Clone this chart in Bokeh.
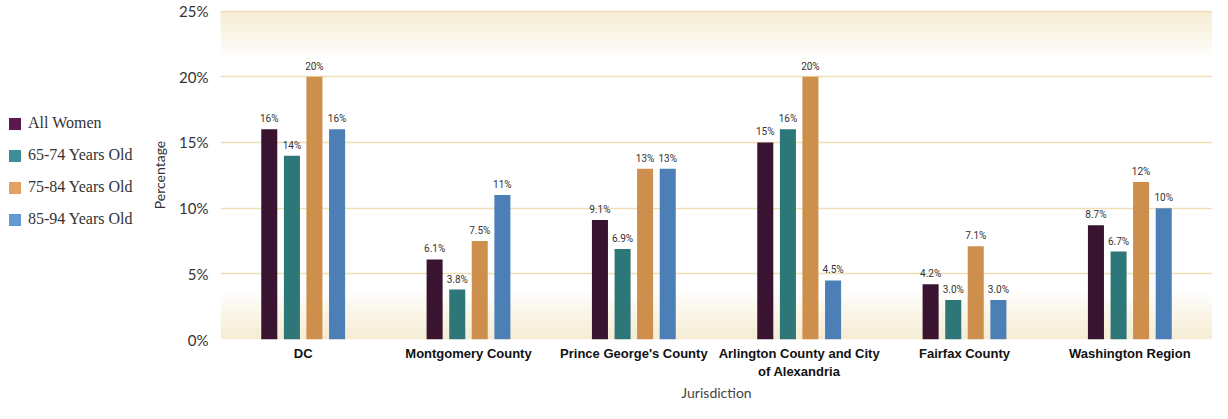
from bokeh.plotting import figure
from bokeh.layouts import row
from bokeh.models import (FactorRange, Legend, LegendItem, BoxAnnotation, ColumnDataSource,
                          Range1d, FixedTicker)
from bokeh.transform import dodge
from bokeh.core.properties import value
from bokeh.embed import file_html
from bokeh.resources import INLINE

# ---------------- data ----------------
jurisdictions = ["DC", "Montgomery County", "Prince George's County",
                 "Arlington County and City\nof Alexandria", "Fairfax County", "Washington Region"]
series_names = ["All Women", "65-74 Years Old", "75-84 Years Old", "85-94 Years Old"]
all_women = [16, 6.1, 9.1, 15, 4.2, 8.7]
age_65_74 = [14, 3.8, 6.9, 16, 3.0, 6.7]
age_75_84 = [20, 7.5, 13, 20, 7.1, 12]
age_85_94 = [16, 11, 13, 4.5, 3.0, 10]
labels_all_women = ["16%", "6.1%", "9.1%", "15%", "4.2%", "8.7%"]
labels_65_74 = ["14%", "3.8%", "6.9%", "16%", "3.0%", "6.7%"]
labels_75_84 = ["20%", "7.5%", "13%", "20%", "7.1%", "12%"]
labels_85_94 = ["16%", "11%", "13%", "4.5%", "3.0%", "10%"]
y_ticks = [0, 5, 10, 15, 20, 25]
y_tick_labels = ["0%", "5%", "10%", "15%", "20%", "25%"]

bar_colors = ["#391430", "#2E7779", "#CF8F4C", "#4B7FB5"]
legend_colors = ["#5A184C", "#3A9096", "#E3A262", "#6499D2"]
offsets = [-0.205, -0.068, 0.068, 0.205]

values = [all_women, age_65_74, age_75_84, age_85_94]
labels = [labels_all_women, labels_65_74, labels_75_84, labels_85_94]

LEGEND_W = 148
p = figure(width=1212 - LEGEND_W, height=403, x_range=FactorRange(*jurisdictions),
           y_range=Range1d(0, 25.05), output_backend="svg", toolbar_location=None,
           min_border_top=10, min_border_right=0, min_border_left=60, min_border_bottom=0)
p.outline_line_color = None
p.background_fill_color = "white"

# gradient bands (decoration)
cream = (245, 234, 205)
n = 24
top_start, top_end = 21.4, 25.05
bot_start, bot_end = 0.0, 3.6
for i in range(n):
    a = 1 - i / n
    col = "#%02x%02x%02x" % tuple(int(255 - (255 - c) * a) for c in cream)
    b0 = bot_start + (bot_end - bot_start) * i / n
    b1 = bot_start + (bot_end - bot_start) * (i + 1) / n
    p.add_layout(BoxAnnotation(bottom=b0, top=b1, fill_color=col, fill_alpha=1,
                               line_color=None, level="image"))
    t1 = top_end - (top_end - top_start) * i / n
    t0 = top_end - (top_end - top_start) * (i + 1) / n
    p.add_layout(BoxAnnotation(bottom=t0, top=t1, fill_color=col, fill_alpha=1,
                               line_color=None, level="image"))

for k in range(4):
    src = ColumnDataSource(dict(x=jurisdictions, y=values[k], lab=labels[k]))
    p.vbar(x=dodge("x", offsets[k], range=p.x_range), top="y", width=0.097,
           source=src, fill_color=bar_colors[k], line_color=None)
    p.text(x=dodge("x", offsets[k], range=p.x_range), y="y", text="lab", source=src,
           text_align="center", text_baseline="bottom", y_offset=-5,
           text_font=value("Roboto"), text_font_size="10px",
           text_color="#333333")

# axes
p.yaxis.ticker = FixedTicker(ticks=y_ticks)
p.yaxis.major_label_overrides = {t: l for t, l in zip(y_ticks, y_tick_labels)}
p.yaxis.axis_line_color = None
p.yaxis.major_tick_line_color = None
p.yaxis.minor_tick_line_color = None
p.yaxis.major_label_text_font = "Lato"
p.yaxis.major_label_text_font_size = "15px"
p.yaxis.major_label_text_color = "#333333"
p.yaxis.major_label_standoff = 6
p.yaxis.axis_label = "Percentage"
p.yaxis.axis_label_text_font = "Lato"
p.yaxis.axis_label_text_font_style = "normal"
p.yaxis.axis_label_text_font_size = "14px"
p.yaxis.axis_label_text_color = "#333333"
p.yaxis.axis_label_standoff = 8

p.xaxis.axis_line_color = None
p.xaxis.major_tick_line_color = None
p.xaxis.minor_tick_line_color = None
p.xaxis.major_label_text_font = "Liberation Sans"
p.xaxis.major_label_text_font_style = "bold"
p.xaxis.major_label_text_font_size = "13px"
p.xaxis.major_label_text_color = "#111111"
p.xaxis.major_label_standoff = 0
p.xaxis.axis_label = "Jurisdiction"
p.xaxis.axis_label_text_font = "Lato"
p.xaxis.axis_label_text_font_style = "normal"
p.xaxis.axis_label_text_font_size = "14px"
p.xaxis.axis_label_text_color = "#444444"
p.xaxis.axis_label_standoff = 2

p.xgrid.grid_line_color = None
p.ygrid.grid_line_color = "#EEDFB6"
p.ygrid.grid_line_width = 1.5

# ---------------- legend panel ----------------
lg = figure(width=LEGEND_W, height=403, x_range=Range1d(0, 1), y_range=Range1d(0, 1),
            x_axis_type=None, y_axis_type=None, output_backend="svg", toolbar_location=None,
            min_border=0, min_border_left=0, min_border_right=0, min_border_top=0,
            min_border_bottom=0)
lg.outline_line_color = None
lg.grid.visible = False
items = []
for k in range(4):
    r = lg.vbar(x=[float("nan")], top=[float("nan")], width=0.1,
                fill_color=legend_colors[k], line_color=None)
    items.append(LegendItem(label=series_names[k], renderers=[r]))
legend = Legend(items=items, location=(7, 110), glyph_width=15, glyph_height=15,
                label_standoff=6, spacing=12, label_height=20,
                label_text_font="Liberation Serif", label_text_font_size="16px",
                label_text_color="#333333", border_line_color=None,
                background_fill_alpha=0, padding=0, margin=0)
lg.add_layout(legend, "center")

layout = row(lg, p)
open("out.html", "w").write(file_html(layout, INLINE))
